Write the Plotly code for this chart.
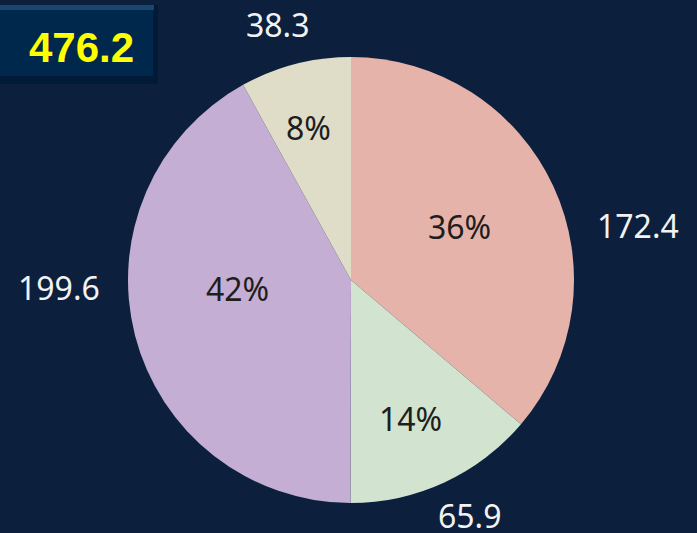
import math
import plotly.graph_objects as go

# ---- data ----
categories = ["A", "B", "C", "D"]
values = [172.4, 65.9, 199.6, 38.3]
total_label = "476.2"

# ---- style ----
colors = ["#e6b3ab", "#d2e4cf", "#c5aed3", "#dfdcc7"]
bg = "#0c1f3c"
W, H = 697, 533
cx, cy, R = 351, 280, 223          # pie centre / radius in px
value_label_nudge_deg = [14, -2, 13, -1.5]
pct_label_nudge_deg = [-1.5, 1.5, 10, -1]

fig = go.Figure()
fig.add_trace(go.Pie(
    labels=categories, values=values, sort=False, direction="clockwise",
    rotation=0, marker=dict(colors=colors, line=dict(width=0)),
    textinfo="none",
    domain=dict(x=[(cx - R) / W, (cx + R) / W], y=[(H - cy - R) / H, (H - cy + R) / H]),
    showlegend=False, hoverinfo="label+value+percent",
))

annotations = []
tot = sum(values)
cum = 0
for v, nudge, pnudge in zip(values, value_label_nudge_deg, pct_label_nudge_deg):
    f = v / tot
    mid = (cum + v / 2) / tot * 360
    cum += v
    # outside value label
    th = math.radians(mid + nudge)
    r = R * 1.12 + 42 * abs(math.sin(th)) + 5 * math.cos(th)
    px, py = cx + r * math.sin(th), cy - r * math.cos(th)
    annotations.append(dict(
        x=px / W, y=1 - py / H, xref="paper", yref="paper",
        text=f"{v:.1f}", showarrow=False, xanchor="center", yanchor="middle",
        font=dict(family="Noto Sans", size=32, color="#f2f2f2")))
    # inside percent label
    th = math.radians(mid + pnudge)
    r = R * (0.76 - 0.6 * f)
    px, py = cx + r * math.sin(th), cy - r * math.cos(th)
    annotations.append(dict(
        x=px / W, y=1 - py / H, xref="paper", yref="paper",
        text=f"{round(f * 100):d}%", showarrow=False, xanchor="center", yanchor="middle",
        font=dict(family="Noto Sans", size=32, color="#1e1e1e")))

annotations.append(dict(
    x=81 / W, y=1 - 47 / H, xref="paper", yref="paper", text=f"<b>{total_label}</b>",
    showarrow=False, xanchor="center", yanchor="middle",
    font=dict(family="Liberation Sans, Arial", size=42, color="#ffff00")))

def rect(x0, y0, x1, y1, color):
    return dict(type="rect", xref="paper", yref="paper", x0=x0 / W, x1=x1 / W,
                y0=1 - y1 / H, y1=1 - y0 / H, fillcolor=color, line=dict(width=0), layer="below")

shapes = [
    rect(0, 5, 158, 84, "#011a35"),
    rect(0, 5, 154, 10, "#1a4670"),
    rect(0, 10, 153, 76, "#00274c"),
]

fig.update_layout(
    width=W, height=H, margin=dict(l=0, r=0, t=0, b=0),
    paper_bgcolor=bg, plot_bgcolor=bg,
    annotations=annotations, shapes=shapes,
)
fig.write_html("out.html", config={"displayModeBar": False},
               post_script="document.body.style.margin='0';document.body.style.overflow='hidden';")
